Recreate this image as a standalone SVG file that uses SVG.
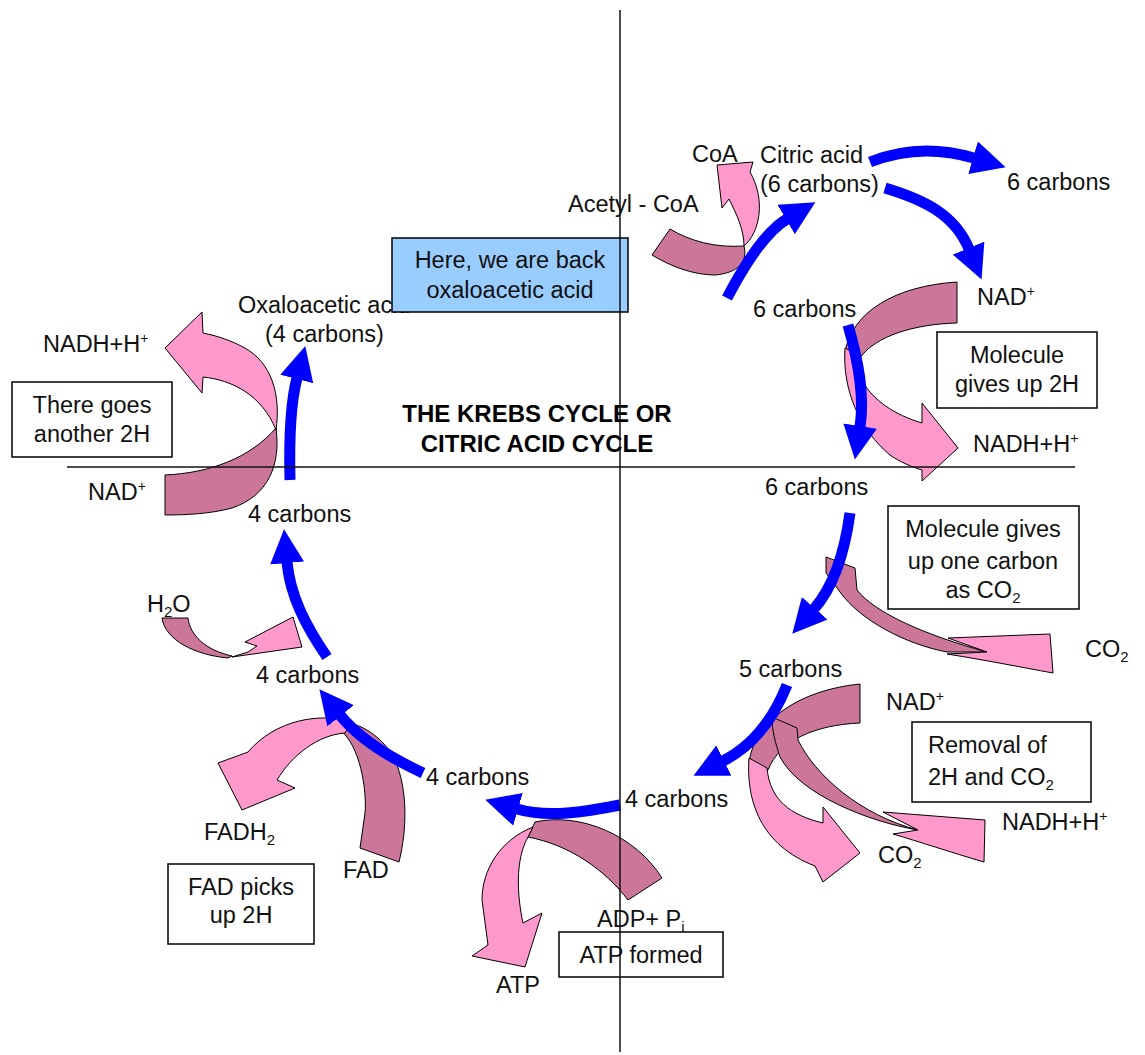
<svg xmlns="http://www.w3.org/2000/svg" width="1145" height="1055" viewBox="0 0 1145 1055">
<style>
.t{font-family:"Liberation Sans",Arial,sans-serif;font-size:23.5px;fill:#111}
.c{text-anchor:middle}
.title{font-family:"Liberation Sans",Arial,sans-serif;font-size:24px;font-weight:bold;fill:#000;text-anchor:middle}
.m{fill:#cc7799;stroke:#000;stroke-width:1}
.p{fill:#ff99cc;stroke:#000;stroke-width:1}
.box{fill:#fff;stroke:#000;stroke-width:1.5}
.bbox{fill:#99ccff;stroke:#000;stroke-width:1.5}
.b{fill:none;stroke:#0000ff;stroke-width:11;marker-end:url(#ah)}
.ax{stroke:#111;stroke-width:1.5}
</style>
<defs>
<marker id="ah" markerUnits="userSpaceOnUse" markerWidth="34" markerHeight="34" viewBox="0 0 34 34" refX="1" refY="17" orient="auto">
<path d="M0,0 L34,17 L0,34 Z" fill="#0000ff"/>
</marker>
</defs>
<rect width="1145" height="1055" fill="#fff"/>

<g id="acetyl-coa">
<path class="m" d="M670,229 C690,241 715,248 744,246 C748,262 738,273 715,275 C693,275 670,266 652,255 Z"/>
<path class="p" d="M744,246 C760,232 766,200 750,172 L753,162 L717,165 L722,208 L729,199 C737,215 744,230 744,246 Z"/>
<text class="t" x="568" y="212">Acetyl - CoA</text>
<text class="t" x="692" y="162">CoA</text>
</g>

<g id="citric-acid">
<text class="t" x="760" y="163">Citric acid</text>
<text class="t" x="760" y="192">(6 carbons)</text>
</g>

<g id="six-carbons-out"><text class="t" x="1007" y="190">6 carbons</text></g>

<g id="nad-step1">
<path class="m" d="M957,282 L957,323 C915,324 875,336 860,358 L845,352 C852,312 895,286 957,282 Z"/>
<path class="p" d="M845,348 C842,390 860,430 890,455 C900,462 912,467 922,470 L922,481 L958,448 L922,403 L922,423 C895,415 872,400 862,380 C857,370 857,362 860,356 Z"/>
<text class="t" x="977" y="305">NAD<tspan font-size="14" dy="-9">+</tspan></text>
<text class="t" x="973" y="452">NADH+H<tspan font-size="14" dy="-9">+</tspan></text>
</g>

<g id="six-carbons-a"><text class="t" x="753" y="317">6 carbons</text></g>

<g id="box-2h"><rect class="box" x="937" y="332" width="160" height="76"/>
<text class="t c" x="1017" y="363">Molecule</text><text class="t c" x="1017" y="392">gives up 2H</text></g>

<g id="six-carbons-b"><text class="t" x="765" y="495">6 carbons</text></g>

<g id="co2-step">
<path class="m" d="M826,557 L855,568 L857,590 C875,613 925,635 987,652 L947,652 C905,644 860,620 840,592 L826,573 Z"/>
<path class="p" d="M948,638 L1050,634 L1053,673 C1020,667 985,660 947,654 L987,652 Z"/>
<text class="t" x="1085" y="657">CO<tspan font-size="15" dy="5">2</tspan></text>
</g>

<g id="box-co2"><rect class="box" x="888" y="506" width="191" height="103"/>
<text class="t c" x="983" y="537">Molecule gives</text><text class="t c" x="983" y="569">up one carbon</text><text class="t c" x="983" y="598">as CO<tspan font-size="15" dy="5">2</tspan></text></g>

<g id="five-carbons"><text class="t" x="739" y="677">5 carbons</text></g>

<g id="nad-step2">
<path class="m" d="M860,684 L860,723 C815,725 780,740 768,770 L749,762 C755,720 800,690 860,684 Z"/>
<path class="p" d="M749,758 C746,800 760,845 815,866 L823,882 L860,853 L823,807 L823,823 C790,815 770,800 767,768 Z"/>
<path class="m" d="M772,717 L797,728 L798,740 C815,775 860,815 918,830 C870,822 800,795 780,757 C775,742 772,730 772,717 Z"/>
<path class="p" d="M883,812 L985,820 L984,862 C950,852 920,842 893,834 L918,830 Z"/>
<text class="t" x="886" y="710">NAD<tspan font-size="14" dy="-9">+</tspan></text>
<text class="t" x="1002" y="830">NADH+H<tspan font-size="14" dy="-9">+</tspan></text>
<text class="t" x="878" y="863">CO<tspan font-size="15" dy="5">2</tspan></text>
</g>

<g id="box-removal"><rect class="box" x="912" y="722" width="179" height="80"/>
<text class="t" x="928" y="753">Removal of</text><text class="t" x="928" y="785">2H and CO<tspan font-size="15" dy="5">2</tspan></text></g>

<g id="four-carbons-a"><text class="t" x="625" y="807">4 carbons</text></g>

<g id="atp-step">
<path class="m" d="M535,822 C580,812 635,835 662,878 L628,900 C605,870 570,845 528,837 Z"/>
<path class="p" d="M533,827 C500,840 482,870 482,900 L488,945 L472,956 L525,967 L542,913 L523,923 C517,895 515,860 528,837 Z"/>
<text class="t" x="597" y="927">ADP+ P<tspan font-size="15" dy="5">i</tspan></text>
<text class="t" x="496" y="993">ATP</text>
</g>

<g id="box-atp"><rect class="box" x="559" y="932" width="164" height="45"/>
<text class="t c" x="641" y="963">ATP formed</text></g>

<g id="four-carbons-b"><text class="t" x="426" y="785">4 carbons</text></g>

<g id="fad-step">
<path class="m" d="M340,730 C360,745 367,790 365,813 L360,848 L399,862 C407,830 408,790 395,760 C385,740 365,725 345,722 Z"/>
<path class="p" d="M352,722 C320,712 275,720 248,752 L218,763 L242,810 L295,788 L277,780 C292,755 318,735 345,733 Z"/>
<text class="t" x="204" y="840">FADH<tspan font-size="15" dy="5">2</tspan></text>
<text class="t" x="343" y="878">FAD</text>
</g>

<g id="box-fad"><rect class="box" x="168" y="864" width="146" height="80"/>
<text class="t c" x="241" y="895">FAD picks</text><text class="t c" x="241" y="923">up 2H</text></g>

<g id="four-carbons-c"><text class="t" x="256" y="683">4 carbons</text></g>

<g id="h2o-step">
<path class="m" d="M162,618 L188,618 C190,635 205,650 232,656 L228,658 C195,655 165,640 162,618 Z"/>
<path class="p" d="M232,657 L302,647 L293,617 L245,642 L257,646 L248,652 Z"/>
<text class="t" x="147" y="612">H<tspan font-size="15" dy="5">2</tspan><tspan dy="-5">O</tspan></text>
</g>

<g id="four-carbons-d"><text class="t" x="248" y="522">4 carbons</text></g>

<g id="nad-step3">
<path class="m" d="M165,475 C210,473 250,458 276,428 C281,465 268,496 232,508 C210,514 185,515 165,515 Z"/>
<path class="p" d="M276,430 C281,395 272,362 243,347 C232,341 218,336 203,333 L202,312 L165,348 L202,393 L203,377 C232,380 262,395 276,430 Z"/>
<text class="t" x="88" y="500">NAD<tspan font-size="14" dy="-9">+</tspan></text>
<text class="t" x="43" y="352">NADH+H<tspan font-size="14" dy="-9">+</tspan></text>
</g>

<g id="box-another"><rect class="box" x="12" y="382" width="160" height="75"/>
<text class="t c" x="92" y="413">There goes</text><text class="t c" x="92" y="442">another 2H</text></g>

<g id="oxaloacetic">
<text class="t" x="238" y="313">Oxaloacetic acid</text>
<text class="t" x="265" y="342">(4 carbons)</text>
</g>

<g id="box-back"><rect class="bbox" x="392" y="238" width="236" height="74"/>
<text class="t c" x="510" y="268">Here, we are back</text><text class="t c" x="510" y="298">oxaloacetic acid</text></g>

<g id="title">
<text class="title" x="537" y="422">THE KREBS CYCLE OR</text>
<text class="title" x="537" y="452">CITRIC ACID CYCLE</text>
</g>

<g id="connectors">
<path class="b" d="M727,298 Q760,235 787,219"/>
<path class="b" d="M870,162 C905,148 940,148 974,158"/>
<path class="b" d="M885,188 C925,200 955,215 969,249"/>
<path class="b" d="M848,325 C858,360 865,395 860,427"/>
<path class="b" d="M850,513 C845,550 835,585 814,609"/>
<path class="b" d="M787,685 C775,715 755,745 723,761"/>
<path class="b" d="M620,805 C585,812 548,818 517,809"/>
<path class="b" d="M423,773 C395,760 360,740 340,715"/>
<path class="b" d="M327,657 C305,625 290,595 287,562"/>
<path class="b" d="M290,480 C289,440 290,405 297,378"/>
</g>

<g id="axes">
<line class="ax" x1="620" y1="10" x2="620" y2="1052"/>
<line class="ax" x1="67" y1="467" x2="1075" y2="467"/>
</g>
</svg>
